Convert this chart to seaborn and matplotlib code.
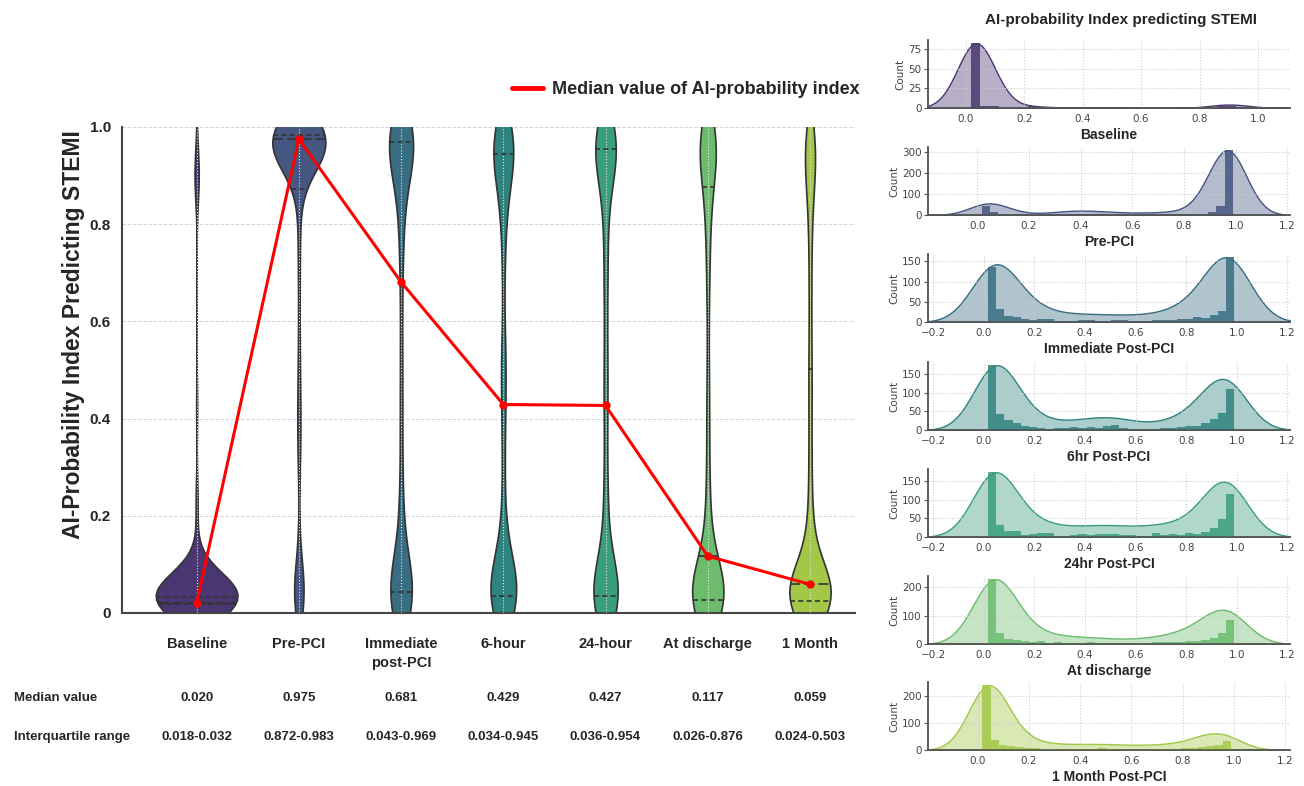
import numpy as np
import pandas as pd
import seaborn as sns
import matplotlib.pyplot as plt
from matplotlib.lines import Line2D
from matplotlib.ticker import MaxNLocator
from matplotlib import transforms

# --- data ---
stages = ['Baseline', 'Pre-PCI', 'Immediate\npost-PCI', '6-hour', '24-hour', 'At discharge', '1 Month']
panel_names = ['Baseline', 'Pre-PCI', 'Immediate Post-PCI', '6hr Post-PCI',
               '24hr Post-PCI', 'At discharge', '1 Month Post-PCI']
medians = [0.020, 0.975, 0.681, 0.429, 0.427, 0.117, 0.059]
q1 = [0.018, 0.872, 0.043, 0.034, 0.036, 0.026, 0.024]
q3 = [0.032, 0.983, 0.969, 0.945, 0.954, 0.876, 0.503]
median_txt = ['0.020', '0.975', '0.681', '0.429', '0.427', '0.117', '0.059']
iqr_txt = ['0.018-0.032', '0.872-0.983', '0.043-0.969', '0.034-0.945',
           '0.036-0.954', '0.026-0.876', '0.024-0.503']

# histogram bins (30 bins) and counts per bin for each time point
bin_edges = np.linspace(0.017, 0.99, 31)
cnt_baseline = [83, 3, 3, 0, 0, 0, 2, 0, 0, 0, 0, 0, 1, 0, 0,
                0, 0, 0, 0, 0, 0, 0, 0, 0, 0, 0, 2, 2, 1, 0]
cnt_prepci = [45, 15, 7, 2, 1, 1, 1, 1, 2, 5, 5, 6, 5, 4, 4,
              3, 3, 2, 2, 2, 3, 3, 3, 4, 4, 4, 5, 15, 45, 310]
cnt_immediate = [135, 32, 15, 12, 7, 5, 8, 7, 3, 2, 3, 5, 6, 3, 2,
                 4, 5, 3, 2, 3, 4, 5, 6, 8, 7, 13, 10, 17, 27, 160]
cnt_6hr = [175, 42, 28, 18, 10, 7, 5, 3, 5, 6, 7, 5, 8, 6, 12,
           14, 5, 4, 3, 3, 4, 5, 6, 8, 10, 12, 20, 30, 45, 110]
cnt_24hr = [175, 33, 15, 17, 5, 8, 10, 10, 4, 4, 5, 8, 5, 9, 7,
            7, 6, 6, 4, 4, 12, 6, 7, 5, 12, 8, 13, 25, 48, 117]
cnt_discharge = [228, 40, 18, 15, 12, 8, 10, 5, 6, 5, 5, 5, 6, 5, 4,
                 3, 3, 3, 3, 4, 6, 7, 6, 8, 10, 12, 15, 20, 37, 85]
cnt_1month = [240, 37, 20, 15, 10, 6, 7, 5, 5, 4, 5, 5, 4, 5, 6,
              5, 4, 4, 3, 4, 5, 4, 4, 5, 6, 8, 12, 15, 20, 32]
all_counts = [cnt_baseline, cnt_prepci, cnt_immediate, cnt_6hr,
              cnt_24hr, cnt_discharge, cnt_1month]

centers = (bin_edges[:-1] + bin_edges[1:]) / 2
samples = [np.repeat(centers, c) for c in all_counts]
df = pd.concat([pd.DataFrame({'stage': s, 'value': v}) for s, v in zip(stages, samples)],
               ignore_index=True)

sns.set_theme(style='white')
plt.rcParams['font.family'] = ['Liberation Sans', 'DejaVu Sans']

W, H = 1304, 786
fig = plt.figure(figsize=(W / 100, H / 100), dpi=100)
pal = sns.color_palette('viridis', 7)

# --- left: violins ---
ax = fig.add_axes([122 / W, 1 - 613 / H, (855 - 122) / W, (613 - 127) / H])
sns.violinplot(data=df, x='stage', y='value', hue='stage', order=stages, hue_order=stages,
               palette=pal, legend=False, inner=None, bw_adjust=0.6, common_norm=True,
               linecolor='#333333', linewidth=1.2, ax=ax)

# quartile / median dashes, sized to the violin body
for coll in list(ax.collections):
    v = coll.get_paths()[0].vertices
    c = (v[:, 0].min() + v[:, 0].max()) / 2
    i = int(round(c))
    r = v[v[:, 0] > c + 1e-6]
    r = r[np.argsort(r[:, 1])]
    for val, dash in [(q1[i], (3, 2)), (medians[i], (6, 2.5)), (q3[i], (3, 2))]:
        hw = np.interp(val, r[:, 1], r[:, 0]) - c
        ax.plot([c - hw, c + hw], [val, val], color='#333333', lw=1.2, dashes=dash, zorder=3)

sns.lineplot(x=np.arange(len(stages)), y=medians, color='red', lw=2.2, marker='o',
             markersize=6, markeredgewidth=0, ax=ax, zorder=5)

ax.set_ylim(0, 1)
ax.set_xlim(-0.73, 6.44)
ax.set_yticks([0, 0.2, 0.4, 0.6, 0.8, 1.0])
ax.set_yticklabels(['0', '0.2', '0.4', '0.6', '0.8', '1.0'], fontweight='bold', fontsize=11)
ax.set_xticks(range(len(stages)))
ax.set_xticklabels(stages, fontweight='bold', fontsize=10.5, va='top', linespacing=1.5)
ax.tick_params(axis='x', length=0, pad=17)
ax.tick_params(axis='y', length=0, pad=8)
ax.set_xlabel('')
ax.set_ylabel('AI-Probability Index Predicting STEMI', fontsize=16.5, fontweight='bold')
ax.yaxis.set_label_coords(-0.05, 0.572)
ax.yaxis.grid(True, ls='--', color='#d5d5d5', lw=0.7)
ax.xaxis.grid(True, ls=':', color='#e6e6e6', lw=0.8)
ax.set_axisbelow(True)
ax.xaxis.set_zorder(2.5)
for s in ['top', 'right']:
    ax.spines[s].set_visible(False)
for s in ['left', 'bottom']:
    ax.spines[s].set_color('#444444')
    ax.spines[s].set_linewidth(1.5)

fig.legend(handles=[Line2D([], [], color='red', lw=3.5)],
           labels=['Median value of AI-probability index'],
           loc='center right', bbox_to_anchor=(876 / W, 1 - 90 / H), frameon=False,
           prop={'weight': 'bold', 'size': 13}, handlelength=1.7, handletextpad=0.5)

# table under the violins
trans = transforms.blended_transform_factory(ax.transData, fig.transFigure)
fig.text(14 / W, 1 - 698 / H, 'Median value', fontweight='bold', fontsize=9.5, va='center')
fig.text(14 / W, 1 - 737 / H, 'Interquartile range', fontweight='bold', fontsize=9.5, va='center')
for i in range(len(stages)):
    ax.text(i, 1 - 698 / H, median_txt[i], transform=trans, ha='center', va='center',
            fontweight='bold', fontsize=9.5)
    ax.text(i, 1 - 737 / H, iqr_txt[i], transform=trans, ha='center', va='center',
            fontweight='bold', fontsize=9.5)

# --- right: histograms with KDE ---
fig.text(1121 / W, 1 - 20 / H, 'AI-probability Index predicting STEMI',
         ha='center', va='center', fontweight='bold', fontsize=11)
bottoms = [108, 215, 322, 430, 537, 644, 750]
xlims = [(-0.13, 1.11), (-0.19, 1.21), (-0.22, 1.21), (-0.22, 1.21),
         (-0.22, 1.21), (-0.22, 1.21), (-0.195, 1.22)]
bw = [0.8, 0.75, 0.75, 0.75, 0.75, 0.75, 0.75]
for k in range(len(stages)):
    col = sns.desaturate(pal[k], 0.75)
    rax = fig.add_axes([928 / W, 1 - bottoms[k] / H, 362 / W, 68 / H])
    tw = rax.twinx()
    sns.kdeplot(x=samples[k], ax=tw, fill=True, color=col, alpha=0.4, linewidth=1,
                bw_adjust=bw[k])
    sns.histplot(x=samples[k], bins=bin_edges, ax=rax, color=col, alpha=0.85, linewidth=0)
    kmax = max(p.vertices[:, 1].max() for p in tw.collections[0].get_paths())
    ytop = rax.get_ylim()[1]
    tw.set_ylim(0, kmax * ytop / max(all_counts[k]))
    tw.set_yticks([])
    tw.set_ylabel('')
    rax.set_xlim(*xlims[k])
    rax.set_zorder(tw.get_zorder() + 1)
    rax.patch.set_visible(False)
    rax.yaxis.set_major_locator(MaxNLocator(nbins=4, steps=[1, 2, 2.5, 5, 10]))
    for a in (rax, tw):
        for s in ['top', 'right']:
            a.spines[s].set_visible(False)
        for s in ['left', 'bottom']:
            a.spines[s].set_color('#555555')
            a.spines[s].set_linewidth(1.1)
    rax.grid(True, ls=':', color='#cccccc', lw=0.8)
    rax.tick_params(labelsize=7.5, labelcolor='#444444', length=3, width=0.8,
                    color='#555555', pad=1.5)
    for lab in rax.get_xticklabels() + rax.get_yticklabels():
        lab.set_family('DejaVu Sans')
    rax.set_ylabel('Count', fontsize=7.5, color='#444444', family='DejaVu Sans', labelpad=2)
    rax.set_xlabel(panel_names[k], fontsize=10, fontweight='bold', labelpad=2.5)

fig.savefig('out.png', dpi=100)
